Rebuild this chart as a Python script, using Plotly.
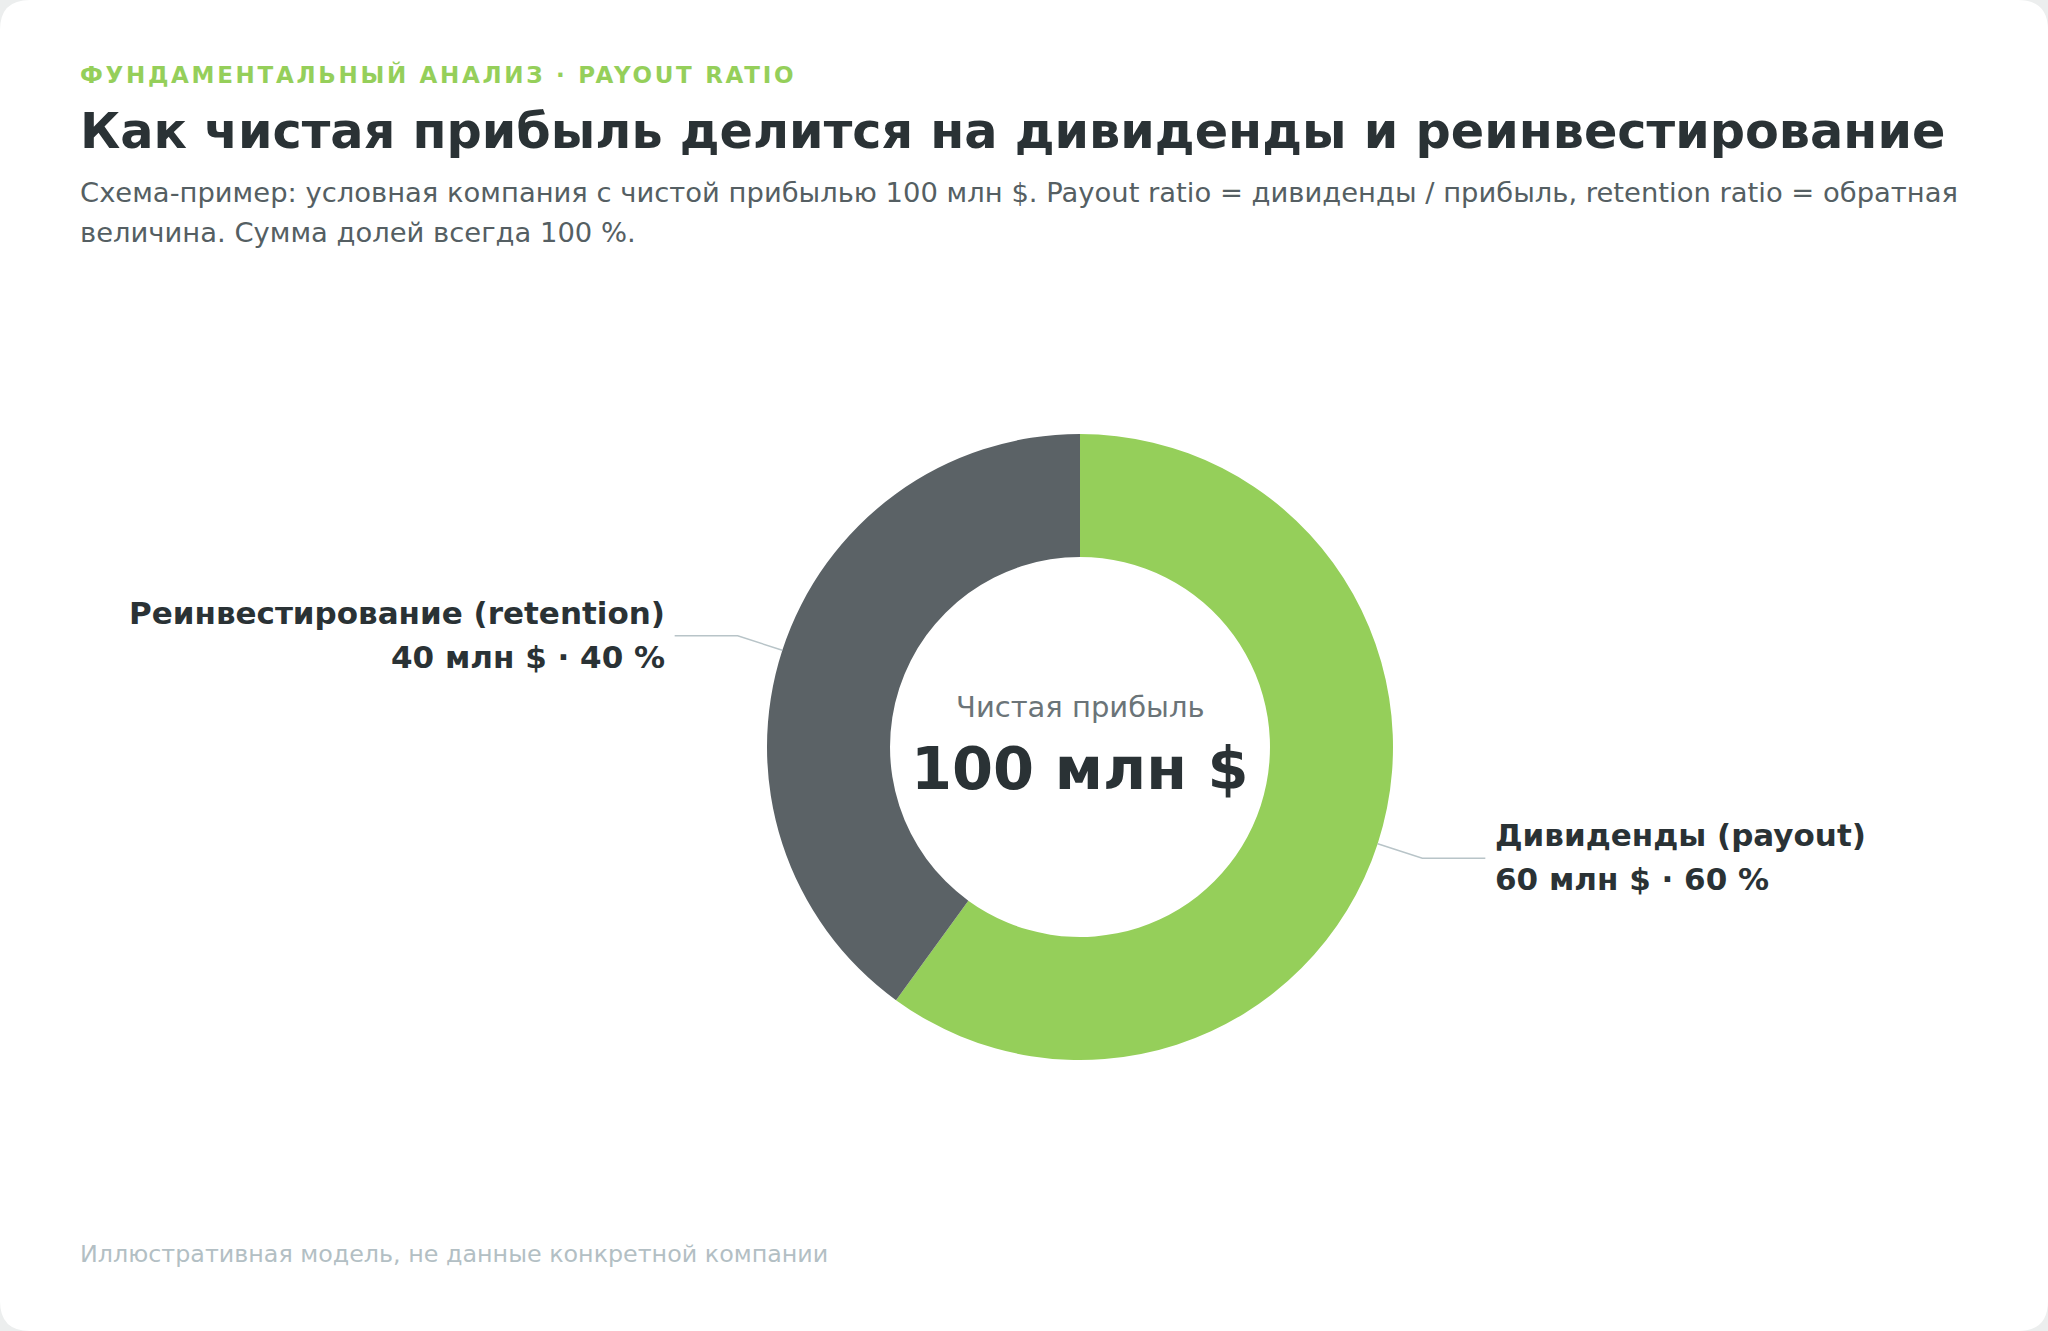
import math
import plotly.graph_objects as go

# ---- data ----
categories = ["Дивиденды (payout)", "Реинвестирование (retention)"]
values_mln = [60, 40]
total_mln = 100
slice_colors = ["#95cf5a", "#5b6266"]

kicker = "ФУНДАМЕНТАЛЬНЫЙ АНАЛИЗ · PAYOUT RATIO"
title = "Как чистая прибыль делится на дивиденды и реинвестирование"
subtitle_lines = [
    "Схема-пример: условная компания с чистой прибылью 100 млн $. Payout ratio = дивиденды / прибыль, retention ratio = обратная",
    "величина. Сумма долей всегда 100 %.",
]
center_caption = "Чистая прибыль"
center_value = "100 млн $"
footnote = "Иллюстративная модель, не данные конкретной компании"

W, H = 2048, 1331
FONT = "DejaVu Sans"

# pie geometry (pixels)
cx, cy, R = 1080, 747, 313

def px(x):
    return x / W

def py(y):
    return 1 - y / H

fig = go.Figure()
fig.add_trace(go.Pie(
    labels=categories,
    values=values_mln,
    marker=dict(colors=slice_colors, line=dict(width=0)),
    hole=0.607,
    sort=False,
    direction="clockwise",
    rotation=0,
    textinfo="none",
    hoverinfo="label+value+percent",
    showlegend=False,
    domain=dict(x=[px(cx - R), px(cx + R)], y=[py(cy + R), py(cy - R)]),
))

shapes = []
# card with rounded corners
rr = 30
rx, ry = rr / W, rr / H
card_path = (
    f"M {rx},1 L {1-rx},1 Q 1,1 1,{1-ry} L 1,{ry} Q 1,0 {1-rx},0 "
    f"L {rx},0 Q 0,0 0,{ry} L 0,{1-ry} Q 0,1 {rx},1 Z"
)
shapes.append(dict(type="path", xref="paper", yref="paper", path=card_path,
                   fillcolor="white", line=dict(width=0), layer="below"))

annotations = []

def ann(text, x, y, size, color, bold=False, xanchor="left", yanchor="middle", align="left"):
    if bold:
        text = f"<b>{text}</b>"
    annotations.append(dict(text=text, x=px(x), y=py(y), xref="paper", yref="paper",
                            xanchor=xanchor, yanchor=yanchor, align=align, showarrow=False,
                            font=dict(family=FONT, size=size, color=color)))

LX = 78
ann(f'<span style="letter-spacing:2.7px">{kicker}</span>', LX, 74, 23, "#95cf5a", bold=True)
ann(title, LX, 131, 49.3, "#2a3235", bold=True)
ann(subtitle_lines[0], LX, 192, 27.4, "#555f63")
ann(subtitle_lines[1], LX, 232, 27.4, "#555f63")
ann(center_caption, cx, 707, 29, "#6b7478", xanchor="center")
ann(center_value, cx, 768, 59, "#2a3235", bold=True, xanchor="center")
ann(footnote, LX, 1254, 23.8, "#b3bfc4")

# leader lines + labels computed from slice mid-angles
cum = 0
for name, v in zip(categories, values_mln):
    frac_mid = (cum + v / 2) / total_mln
    cum += v
    ang = 2 * math.pi * frac_mid  # clockwise from 12 o'clock
    sx, sy = math.sin(ang), -math.cos(ang)
    x0, y0 = cx + R * sx, cy + R * sy
    x1, y1 = cx + R * 1.15 * sx, cy + R * 1.15 * sy
    side = 1 if sx >= 0 else -1
    x2 = x1 + side * 63
    shapes.append(dict(type="path", xref="paper", yref="paper",
                       path=f"M {px(x0)},{py(y0)} L {px(x1)},{py(y1)} L {px(x2)},{py(y1)}",
                       line=dict(color="#b8c4c8", width=1.5)))
    pct = round(100 * v / total_mln)
    xa = "left" if side > 0 else "right"
    ann(name, x2 + side * 8, y1 - 23, 31, "#2a3235", bold=True, xanchor=xa, align=xa)
    ann(f"{v} млн $ · {pct} %", x2 + side * 8, y1 + 21, 31, "#2a3235", bold=True,
        xanchor=xa, align=xa)

fig.update_layout(
    width=W, height=H,
    margin=dict(l=0, r=0, t=0, b=0),
    paper_bgcolor="#eceeee",
    plot_bgcolor="white",
    shapes=shapes,
    annotations=annotations,
    font=dict(family=FONT),
)

fig.write_html("out.html", config={"displayModeBar": False},
               post_script="document.body.style.margin='0';document.body.style.overflow='hidden';")
